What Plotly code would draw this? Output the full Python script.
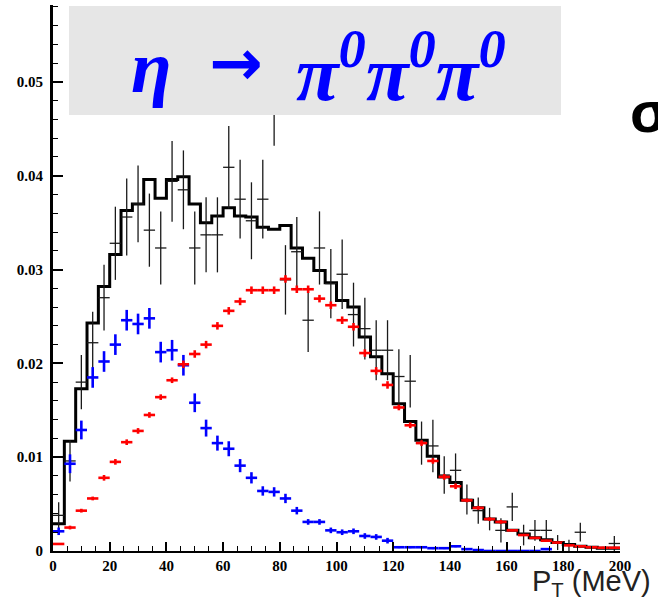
import plotly.graph_objects as go

# ---- data (P_T bins of 4 MeV, centres 2..198) ----
bin_centers = [2 + 4 * i for i in range(50)]
bin_edges = [4 * i for i in range(51)]

mc_sum = [0.0029, 0.0117, 0.0173, 0.0243, 0.0282, 0.0316, 0.0363, 0.0370, 0.0396, 0.0376,
          0.0396, 0.0399, 0.0370, 0.0350, 0.0357, 0.0366, 0.0357, 0.0356, 0.0345, 0.0343,
          0.0347, 0.0323, 0.0312, 0.0299, 0.0286, 0.0267, 0.0260, 0.0228, 0.0207, 0.0189,
          0.0157, 0.0138, 0.0118, 0.0101, 0.0079, 0.0073, 0.0054, 0.0046, 0.0034, 0.0031,
          0.0022, 0.0018, 0.0014, 0.0012, 0.0009, 0.0007, 0.0005, 0.0004, 0.0003, 0.0003]

data_vals = [0.0038, 0.0096, 0.0180, 0.0222, 0.0270, 0.0328, 0.0356, 0.0370, 0.0342, 0.0323,
             0.0394, 0.0385, 0.0323, 0.0337, 0.0337, 0.0409, 0.0375, 0.0352, 0.0375, 0.0477,
             0.0289, 0.0319, 0.0246, 0.0323, 0.0285, 0.0295, 0.0252, 0.0237, 0.0214, 0.0214,
             0.0186, 0.0181, 0.0115, 0.0112, 0.0081, 0.0086, 0.0055, 0.0043, 0.0034, 0.0022,
             0.0047, 0.0017, 0.0022, 0.0022, 0.0009, 0.0006, 0.0020, None, None, 0.0008]
data_errs = [0.0014, 0.0022, 0.0029, 0.0033, 0.0035, 0.0039, 0.0041, 0.0041, 0.0039, 0.0039,
             0.0043, 0.0042, 0.0039, 0.0040, 0.0040, 0.0044, 0.0042, 0.0041, 0.0042, 0.0045,
             0.0037, 0.0037, 0.0034, 0.0039, 0.0037, 0.0037, 0.0034, 0.0033, 0.0032, 0.0032,
             0.0029, 0.0028, 0.0023, 0.0028, 0.0020, 0.0018, 0.0016, 0.0014, 0.0012, 0.0013,
             0.0015, 0.0011, 0.0011, 0.0011, 0.0008, 0.0006, 0.0010, 0.0, 0.0, 0.0008]

red_vals = [0.00075, 0.0025, 0.0043, 0.0056, 0.0078, 0.0095, 0.0116, 0.0128, 0.0145, 0.0164,
            0.0182, 0.0199, 0.0210, 0.0220, 0.0240, 0.0256, 0.0266, 0.0278, 0.0278, 0.0278,
            0.0290, 0.0279, 0.0279, 0.0269, 0.0262, 0.0246, 0.0239, 0.0211, 0.0192, 0.0177,
            0.0153, 0.0134, 0.0115, 0.0096, 0.0079, 0.0069, 0.0054, 0.0046, 0.0034, 0.0031,
            0.0022, 0.0017, 0.0014, 0.0011, 0.0009, 0.0006, 0.0005, 0.0004, 0.00035, 0.00035]
red_errs = [0.0001, 0.0002, 0.0002, 0.0002, 0.0003, 0.0003, 0.0003, 0.0003, 0.0003, 0.0003,
            0.0003, 0.0004, 0.0004, 0.0004, 0.0004, 0.0004, 0.0004, 0.0004, 0.0004, 0.0004,
            0.0004, 0.0004, 0.0004, 0.0004, 0.0004, 0.0004, 0.0004, 0.0004, 0.0004, 0.0004,
            0.0003, 0.0003, 0.0003, 0.0003, 0.0003, 0.0003, 0.0002, 0.0002, 0.0002, 0.0002,
            0.0001, 0.0001, 0.0001, 0.0001, 0.0001, 0.0001, 0.0001, 0.0001, 0.0001, 0.0001]

blue_vals = [0.0021, 0.0093, 0.0129, 0.0185, 0.0202, 0.0220, 0.0246, 0.0242, 0.0248, 0.0212,
             0.0214, 0.0198, 0.0158, 0.0131, 0.0115, 0.0109, 0.0091, 0.0078, 0.0064, 0.0063,
             0.0056, 0.0043, 0.0031, 0.0031, 0.0022, 0.0020, 0.0021, 0.0016, 0.0015, 0.0011,
             0.0004, 0.0004, 0.0004, 0.0003, 0.0003, 0.0005, 0.0002, 0.0001, 0.0, 0.0,
             0.0, 0.0, 0.0, 0.0002, None, None, None, None, None, None]
blue_errs = [0.0004, 0.0010, 0.0010, 0.0011, 0.0011, 0.0011, 0.0011, 0.0011, 0.0011, 0.0011,
             0.0011, 0.0011, 0.0010, 0.0009, 0.0008, 0.0008, 0.0007, 0.0006, 0.0005, 0.0005,
             0.0005, 0.0004, 0.0003, 0.0003, 0.0003, 0.0003, 0.0003, 0.0003, 0.0003, 0.0003,
             0.0001, 0.0001, 0.0001, 0.0001, 0.0001, 0.0001, 0.0001, 0.0001, 0.0, 0.0,
             0.0, 0.0, 0.0, 0.0001, 0.0, 0.0, 0.0, 0.0, 0.0, 0.0]

title_eta = "<b><i>η</i></b>"
title_arrow = "<b>→</b>"
title_pions = "<b><i>π<sup>0</sup>π<sup>0</sup>π<sup>0</sup></i></b>"
x_title = "P<sub>T</sub> (MeV)"

# ---- figure ----
fig = go.Figure()

# MC sum histogram (step)
fig.add_trace(go.Scatter(
    x=bin_edges, y=mc_sum + [mc_sum[-1]], mode="lines", line_shape="hv",
    line=dict(color="black", width=3), hoverinfo="skip"))

def cross_trace(vals, errs, color, thick):
    return go.Scatter(
        x=bin_centers, y=vals, mode="markers",
        marker=dict(size=1, color=color, opacity=0),
        error_x=dict(type="constant", value=2, width=0, thickness=thick, color=color),
        error_y=dict(type="data", array=errs, width=0, thickness=thick, color=color),
        hoverinfo="skip")

fig.add_trace(cross_trace(data_vals, data_errs, "#1a1a1a", 1.3))
fig.add_trace(cross_trace(blue_vals, blue_errs, "#0000ff", 2.6))
fig.add_trace(cross_trace(red_vals, red_errs, "#ff0000", 2.6))

L, R, T, B = 53, 38, 5, 55
W, H = 658, 606
pw, ph = W - L - R, H - T - B

def px_x(p):
    return (p - L) / pw

def px_y(p):
    return (H - B - p) / ph

fig.add_shape(type="rect", xref="paper", yref="paper",
              x0=px_x(69), x1=px_x(561), y0=px_y(115), y1=px_y(6),
              fillcolor="#e6e6e6", line=dict(width=0), layer="above")

blue = "#0000ff"
fig.add_annotation(xref="paper", yref="paper", x=px_x(151), y=px_y(67),
                   text=title_eta, showarrow=False, xanchor="center", yanchor="middle",
                   font=dict(family="Liberation Serif", size=74, color=blue))
fig.add_annotation(xref="paper", yref="paper", x=px_x(236), y=px_y(63),
                   text=title_arrow, showarrow=False, xanchor="center", yanchor="middle",
                   font=dict(family="DejaVu Sans", size=64, color=blue))
fig.add_annotation(xref="paper", yref="paper", x=px_x(401), y=px_y(67),
                   text=title_pions, showarrow=False, xanchor="center", yanchor="middle",
                   font=dict(family="Liberation Serif", size=78, color=blue))

fig.add_annotation(xref="paper", yref="paper", x=px_x(628), y=px_y(112),
                   text="<b>σ</b>", showarrow=False, xanchor="left", yanchor="middle",
                   font=dict(family="Liberation Sans", size=58, color="black"))

fig.add_annotation(xref="paper", yref="paper", x=px_x(530), y=px_y(583),
                   text=x_title, showarrow=False, xanchor="left", yanchor="middle",
                   font=dict(family="Liberation Sans", size=29, color="#222222"))

tickfont = dict(family="Liberation Serif", size=15, color="black", weight="bold")

fig.update_layout(
    width=W, height=H, margin=dict(l=L, r=R, t=T, b=B),
    paper_bgcolor="white", plot_bgcolor="white", showlegend=False,
    xaxis=dict(range=[0, 200], showgrid=False, zeroline=False,
               showline=True, linecolor="black", linewidth=2,
               ticks="inside", ticklen=9, tickwidth=1.5, tickcolor="black",
               dtick=20, tick0=0, tickfont=tickfont,
               minor=dict(dtick=5, ticks="inside", ticklen=5, tickwidth=1.2, tickcolor="black")),
    yaxis=dict(range=[0, 0.0582], showgrid=False, zeroline=False,
               showline=True, linecolor="black", linewidth=3,
               ticks="inside", ticklen=10, tickwidth=1.5, tickcolor="black",
               dtick=0.01, tick0=0, tickfont=tickfont, ticklabelstandoff=4,
               minor=dict(dtick=0.002, ticks="inside", ticklen=5, tickwidth=1.2, tickcolor="black")),
)

fig.write_html("out.html", config={"displayModeBar": False},
               post_script="document.body.style.margin='0px';")
